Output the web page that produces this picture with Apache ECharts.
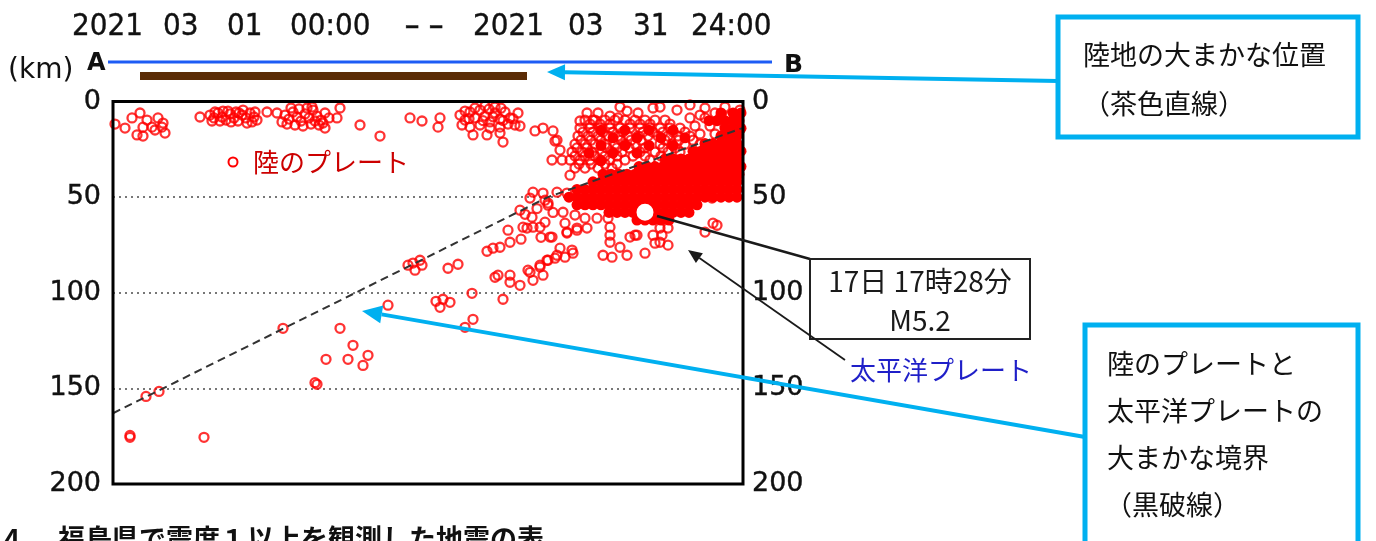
<!DOCTYPE html>
<html><head><meta charset="utf-8">
<script src="https://cdn.jsdelivr.net/npm/echarts@6/dist/echarts.min.js"></script>
<style>html,body{margin:0;padding:0;background:#fff}#c{width:1376px;height:541px}</style>
</head><body><div id="c"></div>
<script>
// ---- data ----
const depthTicks = [0, 50, 100, 150, 200];
const distRange = [0, 315];
const titleParts = ['2021', '03', '01', '00:00', '-', '-', '2021', '03', '31', '24:00'];
// hypocentres in the continental plate / shallow zone [distance, depth km]
const crustPts = [
[1,11.8],[6,13.9],[9.5,8.6],[13.5,6.0],[12,17.5],[15,18.1],[15,13.4],[19.5,13.4],[22.5,8.6],[24.5,13.4],[26,16.5],[25,11.3],[17,9.7],[21,14.9],
[43.5,8.1],
[48.5,7.1],[50.5,8.6],[52.5,6.0],[54.5,8.1],[56.5,9.7],[58.5,6.5],[60.5,8.6],[62.5,10.2],[64.5,7.1],[66.5,8.6],[68.5,6.0],[70.5,8.1],[72,9.7],[49.5,10.2],[53.5,10.2],[57.5,5.0],[61.5,5.5],[65,4.5],[69.5,10.7],[51,5.5],[55,5.0],[59,10.7],[63,6.0],[67,11.3],[71,5.5],
[77,5.5],[82,6.0],[84.5,10.7],
[86,7.1],[88,9.2],[90,5.5],[92,8.1],[94,10.2],[96,6.5],[98,8.6],[100,4.5],[102,7.6],[104,9.7],[106,6.0],[108,8.6],[87,11.8],[91,12.3],[95,12.8],[99,11.8],[103,12.3],[99.5,2.9],[106,13.9],[112,8.6],[113.5,3.4],[97,3.4],[93,3.9],[89,3.4],[101,10.2],[105,11.3],
[123.5,12.3],[133.5,18.1],[148.5,8.6],[154.5,10.2],
[163.5,8.6],[162.5,13.4],
[173.5,7.1],[176,9.7],[178.5,5.5],[181,8.6],[183.5,4.5],[186,7.6],[188.5,10.7],[191,6.0],[193.5,9.2],[196,5.5],[198.5,8.6],[201,12.3],[202.5,6.0],[174.5,12.3],[178.5,13.4],[183.5,12.3],[188.5,13.9],[193.5,13.4],[197.5,11.8],[181,3.4],[191,2.9],[186,2.4],[178,9],[185,10],[190,8],[195,10],[200,9],[176,5],[188,4],[194,3.5],
[180,17.5],[187,17.5],[193.5,16.5],[195,21.2],
[203.5,12.8],[211,15.4],[215,13.9],[220,15.4],[221,20.7],[223.5,25.4],[219.5,30.6],[224.5,30.6],[222,20.2],
[233.5,10.2],[237,6.0],[242.5,6.0],[248.5,7.6],[252.5,8.6],[257,5.0],[262.5,6.0],[270,3.4],[282,4.5],[293.5,7.1],[301,6.0],[308.5,7.6],[240,9.7],
[253.5,2.9],[273.5,2.9],[288.5,1.8],[296,3.4],[306,2.9],[313.5,4.5],
[236,9.7],[241,9.7],[246,9.7],[251,9.7],[256,9.7],[261,9.7],[266,9.7],[271,9.7],[276,9.7],
[238.5,11.8],[243.5,11.8],[248.5,11.8],[258.5,11.8],[263.5,11.8],[268.5,11.8],[278.5,11.8],
[233.5,13.9],[238.5,13.9],[243.5,13.9],[248.5,13.9],[253.5,13.9],[258.5,13.9],[263.5,13.9],[268.5,13.9],[273.5,13.9],[278.5,13.9],[283.5,13.9],
[235,16],[240,16],[245,16],[250,16],[255,16],[265,16],[270,16],[275,16],[280,16],[286,16],
[232.5,18.1],[237.5,18.1],[242.5,18.1],[247.5,18.1],[252.5,18.1],[257.5,18.1],[262.5,18.1],[267.5,18.1],[272.5,18.1],[277.5,18.1],[282.5,18.1],[288.5,18.1],
[234,20.2],[239,20.2],[244,20.2],[254,20.2],[259,20.2],[264,20.2],[276,20.2],[283,20.2],[290,20.2],
[231,22.3],[236,22.3],[241,22.3],[246,22.3],[251,22.3],[256,22.3],[261,22.3],[273.5,22.3],[279.5,22.3],[286,22.3],[293.5,22.3],
[232,24.3],[237,24.3],[247,24.3],[252,24.3],[258,24.3],[266,24.3],[275,24.3],[281,24.3],
[229.5,26.4],[234.5,26.4],[239.5,26.4],[244.5,26.4],[249.5,26.4],[254.5,26.4],[263.5,26.4],[271,26.4],[277.5,26.4],[283.5,26.4],
[231,28.5],[236,28.5],[241,28.5],[246,28.5],[252,28.5],[260,28.5],[266,28.5],[274,28.5],
[228.5,30.6],[233.5,30.6],[238.5,30.6],[243.5,30.6],[248.5,30.6],[256,30.6],[268.5,30.6],
[233,32.7],[239,32.7],[246,32.7],[252,32.7],
[231,34.8],[236,34.8],[242.5,34.8],[249.5,34.8],
[288.5,8.6],[296,8.6],[303.5,8.6],[311,8.6],
[291,12.8],[298.5,12.8],[306,12.8],[312.5,12.8],
[293.5,17.0],[301,17.0],[308.5,17.0],
[304.5,21.2],[311.5,21.2]
];
// hypocentres along / inside the Pacific slab
const slabPts = [
[228.5,38.5],[215,47.9],[216,51.6],[217.5,53.1],
[147.5,85.6],[151,88.2],[154.5,85.6],[153.5,83.0],[150,84.5],
[167.5,87.2],[172.5,85.1],
[187,78.3],[190,76.7],[193.5,76.2],[198.5,73.6],[197.5,67.3],
[191,91.9],[192.5,90.8],[198.5,90.8],[198.5,94.5],[203.5,96.1],[195,103.4],
[208.5,89.3],[210,93.5],[213.5,86.6],[215,90.8],[217.5,83.0],[221,81.9],[226,81.4],[230,79.3],[223.5,76.7],[219.5,70.9],[227,68.8],[232,67.3],[207,66.2],[213.5,65.7],
[179.5,100.3],[165,103.4],[168.5,105.0],[163.5,107.6],[180,113.9],[176,118.1],[161.5,104.5],
[209.5,60.5],[216,63.1],[210,65.7],[205,65.7],[218.5,70.9],[225,57.9],[226,63.6],[231,59.4],[232,66.2],[227,68.3],[236,61.0],[237,66.2],[242,61.0],[247.5,61.0],[248.5,65.7],[248.5,69.9],[248.5,73.6],[253.5,76.2],[245,80.4],[249.5,81.4],[257,80.4],[258.5,70.9],[261,69.9],[266,79.3],[271,74.1],[274.5,69.9],[277.5,75.1],[277.5,66.2],[273.5,66.2],[287,55.8],[288.5,51.6],[296,68.3],[302,64.7],[299.5,50.5],[208.5,50.5],[210,47.4],[222,47.4],[227,47.9],[217.5,54.2],[229.5,77.7],[222,80.4],[217,83.0],[213.5,85.6],[207.5,88.2],
[262,69.9],[270,69.9],[273.5,73.6],[300,63.6],[296,49.0],[308.5,47.9],
[137.5,106.5],[113.5,118.6],[120,127.5],[127.5,132.7],[117.5,134.8],[125,138.0],[106.5,134.8],[102,147.9],[101,147],[85,118.6],[23,151.6],[16.5,154.2],[8.5,174.6],[8.5,175.6],[45.5,175.6],
[203.5,56.8],[206,59],[212,56],[220,58],[214,71],[204,72]
];
// densely overlapping hypocentres (appear as solid red)
const densePts = [
[304,6],[310,6],[314,6],
[298,10],[302,10],[306,10],[310,10],[313,10],
[306,14],[310,14],[314,14],
[304,18],[308,18],[312,18],
[296,22],[300,22],[304,22],[308,22],[312,22],
[290,26],[294,26],[298,26],[302,26],[306,26],[310,26],[314,26],
[276,30],[280,30],[284,30],[288,30],[292,30],[296,30],[300,30],[304,30],[308,30],[312,30],
[263,34],[267,34],[271,34],[275,34],[279,34],[283,34],[287,34],[291,34],[295,34],[299,34],[303,34],[307,34],[311,34],[314,34],
[245,38],[249,38],[253,38],[257,38],[261,38],[265,38],[269,38],[273,38],[277,38],[281,38],[285,38],[289,38],[293,38],[297,38],[301,38],[305,38],[309,38],[313,38],
[240,42],[244,42],[248,42],[252,42],[256,42],[260,42],[264,42],[268,42],[272,42],[276,42],[280,42],[284,42],[288,42],[292,42],[296,42],[300,42],[304,42],[308,42],[312,42],
[232,46],[236,46],[240,46],[244,46],[248,46],[252,46],[256,46],[260,46],[264,46],[268,46],[272,46],[276,46],[280,46],[284,46],[288,46],[292,46],[296,46],[300,46],[304,46],[308,46],[312,46],
[228,50],[232,50],[236,50],[240,50],[244,50],[248,50],[252,50],[256,50],[260,50],[264,50],[268,50],[272,50],[276,50],[280,50],[284,50],[288,50],[292,50],[296,50],[300,50],[304,50],[308,50],[312,50],
[232,54],[236,54],[240,54],[244,54],[248,54],[252,54],[256,54],[260,54],[264,54],[268,54],[272,54],[276,54],[280,54],[284,54],[288,54],[292,54],
[248,58],[252,58],[256,58],[260,58],[264,58],[268,58],[272,58],[276,58],[280,58],[284,58],[288,58],
[262,62],[266,62],[270,62],[274,62],[278,62],
[244,15],[256,15],[268,15],[280,15],
[250,19],[262,19],[274,19],[286,19],
[244,23],[256,23],[268,23],[280,23],
[238,27],[250,27],[262,27],
[244,31]
];
const boundary = [[0,163],[217.5,50],[314.5,14]];
const mainShock = [[266,57.9]];

// ---- drawing ----
const chart = echarts.init(document.getElementById('c'), null, {renderer:'canvas'});
const DJ = 'DejaVu Sans';
const JP = '"Noto Sans CJK JP"';
const titleX = [72,163,227,290,404,428,473,568,633,691];
function txt(x, y, text, font, fill, align) {
  const a = align || 'left';
  return {type:'text', x:x, y:y, z:100, silent:true,
    style:{text:text, font:font, fill:fill||'#111', textAlign:a, align:a, textVerticalAlign:'middle', verticalAlign:'middle'}};
}
function line(x1,y1,x2,y2,color,w){
  return {type:'line', z:100, silent:true, shape:{x1:x1,y1:y1,x2:x2,y2:y2}, style:{stroke:color, lineWidth:w}};
}
function tri(pts,color){
  return {type:'polygon', z:100, silent:true, shape:{points:pts}, style:{fill:color}};
}
const CY = '#00b0f0';
const graphics = [];
titleParts.forEach((t,i)=>{
  const g = txt(titleX[i], 27, t, '30px '+DJ, '#111');
  g.scaleX = (t === '-') ? 1.5 : 0.93;
  g.style.stroke = '#111'; g.style.lineWidth = 0.4;
  graphics.push(g);
});
graphics.push(txt(8, 71, '(km)', '28px '+DJ));
graphics.push(txt(87, 64, 'A', 'bold 24px '+DJ));
graphics.push(txt(784, 65, 'B', 'bold 25px '+DJ));
graphics.push(line(108,62,772,62,'#1d5cf5',3));
graphics.push({type:'rect', z:100, silent:true, shape:{x:140,y:72,width:387,height:8}, style:{fill:'#5b2c06'}});
// box 1
graphics.push({type:'rect', z:100, silent:true, shape:{x:1058,y:17,width:300,height:120}, style:{fill:'#fff', stroke:CY, lineWidth:5}});
graphics.push(txt(1083, 55, '陸地の大まかな位置', '27px '+JP));
graphics.push(txt(1083, 104, '（茶色直線）', '27px '+JP));
graphics.push(line(1058,81,565,72.3,CY,4));
graphics.push(tri([[547,72],[565.1,64.3],[564.9,80.3]],CY));
// box 2
graphics.push(line(1085,437,381.7,314.4,CY,4));
graphics.push(tri([[362,311],[383.2,305.5],[380.2,323.3]],CY));
graphics.push({type:'rect', z:100, silent:true, shape:{x:1085,y:325,width:273,height:240}, style:{fill:'#fff', stroke:CY, lineWidth:5}});
graphics.push(txt(1107, 364, '陸のプレートと', '27px '+JP));
graphics.push(txt(1107, 411, '太平洋プレートの', '27px '+JP));
graphics.push(txt(1107, 458, '大まかな境界', '27px '+JP));
graphics.push(txt(1105, 505, '（黒破線）', '27px '+JP));
// main shock annotation
graphics.push(line(657,216,810,259,'#1a1a1a',2.5));
graphics.push({type:'rect', z:100, silent:true, shape:{x:810,y:259,width:220,height:80}, style:{fill:'#fff', stroke:'#222', lineWidth:2}});
graphics.push(txt(920, 281, '17日 17時28分', '28px '+JP, '#1a1a1a', 'center'));
graphics.push(txt(920, 320, 'M5.2', '28px '+JP, '#1a1a1a', 'center'));
graphics.push(line(845,360,699.4,258.1,'#1a1a1a',1.8));
graphics.push(tri([[688,250],[702.9,253.2],[695.9,263.0]],'#1a1a1a'));
graphics.push(txt(850, 370, '太平洋プレート', '26px '+JP, '#1f1fc8'));
graphics.push(txt(253, 162, '陸のプレート', '26px '+JP, '#cc0000'));
graphics.push({type:'circle', z:100, silent:true, shape:{cx:233,cy:162,r:4.5}, style:{fill:'none', stroke:'#f00', lineWidth:2}});
// bottom heading (cut off by page edge)
graphics.push({type:'text', x:4, y:525, z:100, silent:true, style:{text:'4', font:'bold 27px '+JP, fill:'#111', textVerticalAlign:'top', verticalAlign:'top'}});
graphics.push({type:'text', x:58, y:525, z:100, silent:true, style:{text:'福島県で震度１以上を観測した地震の表', font:'bold 27px '+JP, fill:'#111', textVerticalAlign:'top', verticalAlign:'top'}});

const yAxisBase = {
  type:'value', inverse:true, min:depthTicks[0], max:depthTicks[depthTicks.length-1], interval:depthTicks[1]-depthTicks[0],
  axisLine:{show:false}, axisTick:{show:false}
};
const lblStyle = {fontSize:27, fontFamily:DJ, color:'#111', textBorderColor:'#111', textBorderWidth:0.4};
const hollow = {symbol:'circle', symbolSize:9, itemStyle:{color:'rgba(255,255,255,0)', borderColor:'#ff0000', borderWidth:2.3}};
chart.setOption({
  animation:false,
  backgroundColor:'#fff',
  grid:{left:113, right:633, top:101.5, bottom:57, show:true, borderColor:'#000', borderWidth:3, backgroundColor:'rgba(0,0,0,0)', z:5},
  xAxis:{type:'value', min:distRange[0], max:distRange[1], show:false},
  yAxis:[
    Object.assign({}, yAxisBase, {position:'left', axisLabel:Object.assign({margin:12}, lblStyle),
      splitLine:{show:true, lineStyle:{type:[2,4], color:'#777', width:2}}}),
    Object.assign({}, yAxisBase, {position:'right', axisLabel:Object.assign({margin:9}, lblStyle), splitLine:{show:false}})
  ],
  series:[
    {type:'scatter', name:'dense', data:densePts, symbol:'circle', symbolSize:11, itemStyle:{color:'#ff0000', opacity:1}, silent:true, z:2},
    Object.assign({type:'scatter', name:'crust', data:crustPts, silent:true, z:3}, hollow),
    Object.assign({type:'scatter', name:'slab', data:slabPts, silent:true, z:3}, hollow),
    {type:'line', name:'boundary', data:boundary, showSymbol:false, symbol:'none', lineStyle:{color:'#333', width:2, type:[8,5]}, silent:true, z:4},
    {type:'scatter', name:'main', data:mainShock, symbol:'circle', symbolSize:20, itemStyle:{color:'#ffffff', opacity:1, borderColor:'#ff0000', borderWidth:3}, silent:true, z:6}
  ],
  graphic:graphics
});
</script>
</body></html>
